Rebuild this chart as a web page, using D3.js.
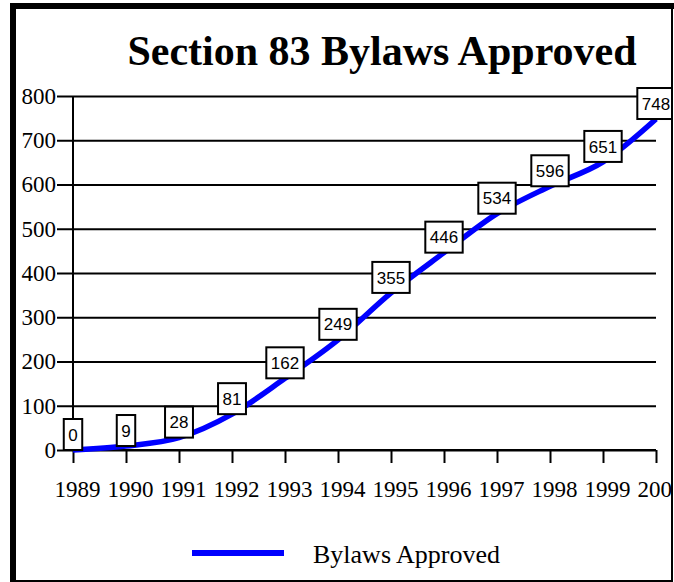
<!DOCTYPE html>
<html>
<head>
<meta charset="utf-8">
<script src="https://cdn.jsdelivr.net/npm/d3@7"></script>
<style>
  body { margin: 0; background: #fff; }
  svg { display: block; }
</style>
</head>
<body>
<script>
/*
    DATA
*/
var years = [1989, 1990, 1991, 1992, 1993, 1994, 1995, 1996, 1997, 1998, 1999, 2000];
var bylaws = [0, 9, 28, 81, 162, 249, 355, 446, 534, 596, 651, 748];
var yTicks = [0, 100, 200, 300, 400, 500, 600, 700, 800];
var chartTitle = "Section 83 Bylaws Approved";
var seriesName = "Bylaws Approved";

/*
    LAYOUT
*/
var width = 674, height = 582;
var plot = {left: 73, right: 656, top: 96, bottom: 450};
var serif = "'Liberation Serif', 'Times New Roman', serif";
var sans = "'Liberation Sans', Arial, sans-serif";

var svg = d3.select("body").append("svg")
    .attr("width", width)
    .attr("height", height);

// the frame cuts off whatever runs past its right edge (2000 label, 748 box)
svg.append("defs").append("clipPath")
    .attr("id", "frameClip")
  .append("rect")
    .attr("x", 0).attr("y", 0)
    .attr("width", 671).attr("height", 580);

// frame
svg.append("rect").attr("x", 10).attr("y", 3).attr("width", 664).attr("height", 6).attr("fill", "#000");
svg.append("rect").attr("x", 10).attr("y", 3).attr("width", 6).attr("height", 579).attr("fill", "#000");
svg.append("rect").attr("x", 671).attr("y", 3).attr("width", 2).attr("height", 579).attr("fill", "#000");
svg.append("rect").attr("x", 10).attr("y", 580).attr("width", 663).attr("height", 2).attr("fill", "#000");

var g = svg.append("g").attr("clip-path", "url(#frameClip)");

// title
g.append("text")
    .attr("x", 382)
    .attr("y", 65)
    .attr("text-anchor", "middle")
    .style("font-family", serif)
    .style("font-weight", "bold")
    .style("font-size", "42px")
    .text(chartTitle);

/*
    SCALES
*/
var x = d3.scaleLinear()
    .domain([years[0], years[years.length - 1]])
    .range([plot.left, plot.right]);

var y = d3.scaleLinear()
    .domain([0, 800])
    .range([plot.bottom, plot.top]);

// gridlines
var grid = g.append("g")
    .attr("transform", "translate(" + plot.left + ",0)")
    .call(d3.axisLeft(y).tickValues(yTicks).tickSize(-(plot.right - plot.left)).tickFormat(""));
grid.select(".domain").remove();
grid.selectAll("line").attr("stroke", "#000").attr("stroke-width", 2);

// y axis
var yAxis = g.append("g")
    .attr("transform", "translate(" + plot.left + ",0)")
    .call(d3.axisLeft(y).tickValues(yTicks).tickSize(16).tickPadding(1));
yAxis.select(".domain").attr("stroke", "#000").attr("stroke-width", 2).attr("d", "M0," + plot.top + "V" + plot.bottom);
yAxis.selectAll("line").attr("stroke", "#000").attr("stroke-width", 2);
yAxis.selectAll("text")
    .style("font-family", serif)
    .style("font-size", "23px")
    .attr("fill", "#000");

// x axis
var xAxis = g.append("g")
    .attr("transform", "translate(0," + plot.bottom + ")")
    .call(d3.axisBottom(x).tickValues(years).tickSize(13).tickFormat(d3.format("d")));
xAxis.select(".domain").attr("stroke", "#000").attr("stroke-width", 2).attr("d", "M" + plot.left + ",0H" + plot.right);
xAxis.selectAll("line").attr("stroke", "#000").attr("stroke-width", 2);
xAxis.selectAll("text")
    .attr("y", 47)
    .attr("dy", null)
    .attr("dx", 4)
    .style("font-family", serif)
    .style("font-size", "23px")
    .attr("fill", "#000");

/*
    LINE
*/
var points = years.map(function(d, i) { return {year: d, value: bylaws[i]}; });

var line = d3.line()
    .x(function(d) { return x(d.year); })
    .y(function(d) { return y(d.value); })
    .curve(d3.curveCatmullRom.alpha(0));

g.append("path")
    .datum(points)
    .attr("fill", "none")
    .attr("stroke", "#0000FF")
    .attr("stroke-width", 5.5)
    .attr("d", line);

/*
    DATA LABELS - box sits on the point, centred on it
*/
var boxH = 31;
var labels = g.selectAll(".dlabel")
    .data(points)
  .enter().append("g")
    .attr("class", "dlabel");

labels.append("rect")
    .attr("fill", "#fff")
    .attr("stroke", "#000")
    .attr("stroke-width", 2);

labels.append("text")
    .attr("text-anchor", "middle")
    .attr("dy", "0.36em")
    .style("font-family", sans)
    .style("font-size", "17px")
    .attr("x", function(d) { return x(d.year); })
    .attr("y", function(d) { return y(d.value) - boxH / 2; })
    .text(function(d) { return d.value; });

labels.each(function(d) {
  var t = d3.select(this).select("text");
  var w = t.node().getComputedTextLength() + 9;
  d3.select(this).select("rect")
      .attr("x", x(d.year) - w / 2)
      .attr("y", y(d.value) - boxH)
      .attr("width", w)
      .attr("height", boxH);
});

/*
    LEGEND
*/
g.append("line")
    .attr("x1", 192).attr("x2", 284)
    .attr("y1", 553).attr("y2", 553)
    .attr("stroke", "#0000FF")
    .attr("stroke-width", 6);

g.append("text")
    .attr("x", 313)
    .attr("y", 563)
    .style("font-family", serif)
    .style("font-size", "26px")
    .text(seriesName);
</script>
</body>
</html>
